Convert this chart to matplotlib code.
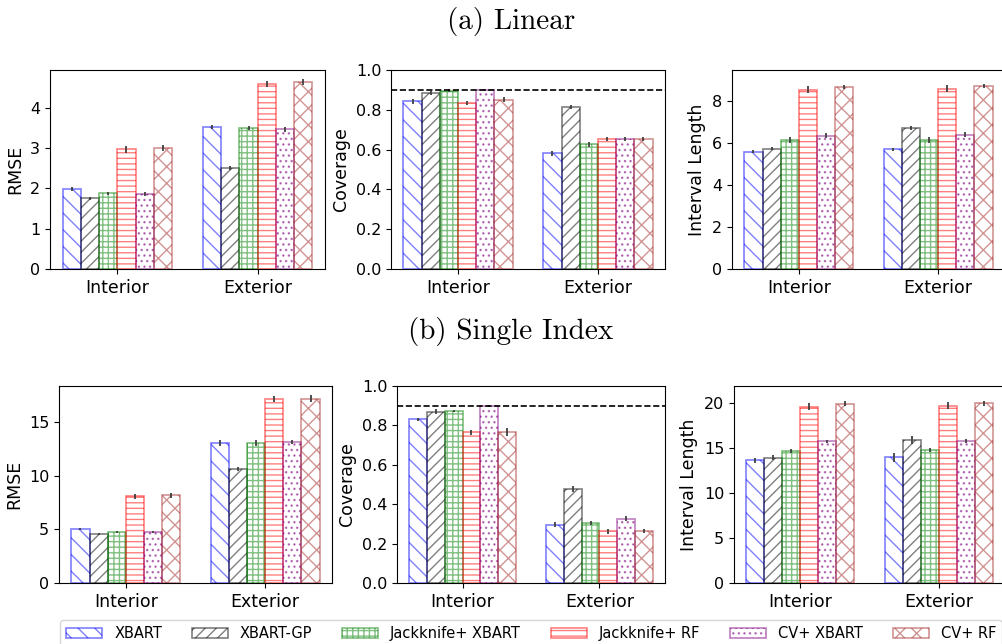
import numpy as np
import matplotlib
matplotlib.use("Agg")
import matplotlib.pyplot as plt

groups = ["Interior", "Exterior"]
methods = ["XBART", "XBART-GP", "Jackknife+ XBART", "Jackknife+ RF", "CV+ XBART", "CV+ RF"]
colors = ["blue", "black", "green", "red", "purple", "brown"]
hatches = ["\\\\", "///", "+++", "---", "...", "xx"]

# (a) Linear  -- rows: methods, cols: Interior / Exterior
lin_rmse = [[1.98, 3.52], [1.75, 2.50], [1.88, 3.50], [2.97, 4.59], [1.87, 3.46], [3.00, 4.63]]
lin_rmse_err = [[0.05, 0.05], [0.04, 0.05], [0.04, 0.05], [0.09, 0.08], [0.05, 0.06], [0.08, 0.07]]
lin_cov = [[0.843, 0.582], [0.883, 0.814], [0.896, 0.627], [0.834, 0.655], [0.900, 0.652], [0.851, 0.652]]
lin_cov_err = [[0.012, 0.012], [0.009, 0.011], [0.008, 0.012], [0.011, 0.010], [0.005, 0.010], [0.011, 0.010]]
lin_len = [[5.56, 5.69], [5.70, 6.71], [6.11, 6.13], [8.51, 8.56], [6.33, 6.38], [8.64, 8.70]]
lin_len_err = [[0.07, 0.07], [0.07, 0.09], [0.14, 0.14], [0.17, 0.16], [0.11, 0.12], [0.11, 0.10]]

# (b) Single Index
si_rmse = [[5.02, 13.10], [4.57, 10.62], [4.78, 13.07], [8.07, 17.14], [4.75, 13.14], [8.17, 17.20]]
si_rmse_err = [[0.07, 0.28], [0.07, 0.20], [0.08, 0.25], [0.22, 0.28], [0.08, 0.22], [0.22, 0.30]]
si_cov = [[0.831, 0.296], [0.870, 0.475], [0.873, 0.304], [0.765, 0.262], [0.899, 0.326], [0.767, 0.264]]
si_cov_err = [[0.008, 0.012], [0.012, 0.015], [0.006, 0.010], [0.013, 0.012], [0.005, 0.012], [0.020, 0.012]]
si_len = [[13.63, 14.00], [13.93, 15.85], [14.70, 14.81], [19.60, 19.70], [15.74, 15.81], [19.93, 19.96]]
si_len_err = [[0.30, 0.50], [0.30, 0.45], [0.25, 0.25], [0.40, 0.40], [0.20, 0.25], [0.30, 0.30]]

target = 0.9

fig = plt.figure(figsize=(10.02, 6.44), dpi=100)

W, H = 1002.0, 644.0
def px_axes(left, top, right, bottom):
    return fig.add_axes([left / W, 1 - bottom / H, (right - left) / W, (bottom - top) / H])

def draw(ax, vals, errs, ylabel, cov=False, ymax=None):
    x = np.arange(len(groups))
    width = 0.13
    for i in range(len(methods)):
        ax.bar(x + (i - 2.5) * width, vals[i], width, yerr=errs[i],
               facecolor="none", edgecolor=colors[i], hatch=hatches[i],
               alpha=0.5, linewidth=1.2, label=methods[i],
               error_kw=dict(ecolor="0.25", elinewidth=1.3, capsize=0))
    if cov:
        ax.axhline(target, color="k", linestyle="--", linewidth=1.2)
        ax.set_ylim(0, 1.0)
    elif ymax is not None:
        ax.set_ylim(0, ymax)
    ax.set_xticks(x)
    ax.set_xticklabels(groups, fontsize=12.5)
    ax.tick_params(axis="y", labelsize=11.5)
    ax.set_ylabel(ylabel, fontsize=12.5)

ax1 = px_axes(50, 70, 325, 269)
ax2 = px_axes(391, 70, 665, 269)
ax3 = px_axes(732, 70, 1005, 269)
ax4 = px_axes(59, 386, 332, 583)
ax5 = px_axes(397, 386, 665, 583)
ax6 = px_axes(734, 386, 1005, 583)

draw(ax1, lin_rmse, lin_rmse_err, "RMSE")
draw(ax2, lin_cov, lin_cov_err, "Coverage", cov=True)
draw(ax3, lin_len, lin_len_err, "Interval Length", ymax=9.45)
draw(ax4, si_rmse, si_rmse_err, "RMSE")
draw(ax5, si_cov, si_cov_err, "Coverage", cov=True)
draw(ax6, si_len, si_len_err, "Interval Length", ymax=21.9)

fig.text(0.51, 1 - 22 / H, "(a) Linear", family="cmr10", fontsize=21, ha="center", va="center")
fig.text(0.51, 1 - 331 / H, "(b) Single Index", family="cmr10", fontsize=21, ha="center", va="center")

handles, labels = ax1.get_legend_handles_labels()
fig.legend(handles, labels, loc="upper left", bbox_to_anchor=(0.06, 0.037, 0.94, 0),
           mode="expand", ncol=6, fontsize=10.5, handlelength=2.5, frameon=True,
           borderaxespad=0)

fig.savefig("out.png", dpi=100)
